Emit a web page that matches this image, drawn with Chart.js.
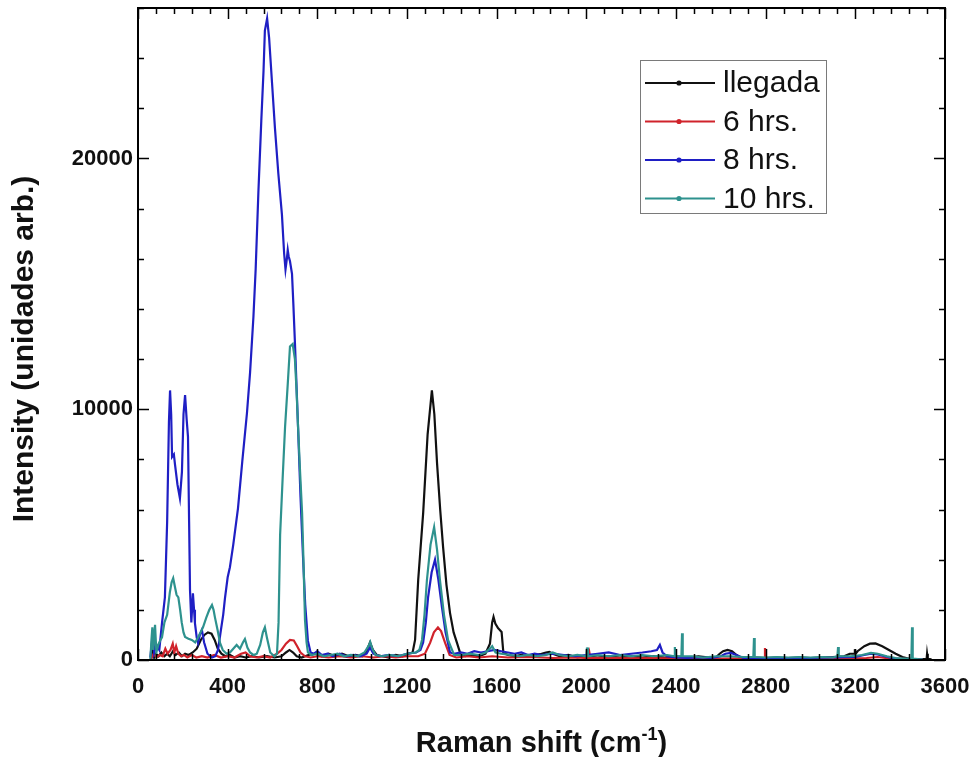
<!DOCTYPE html>
<html>
<head>
<meta charset="utf-8">
<script src="https://cdn.jsdelivr.net/npm/chart.js@4.4.1/dist/chart.umd.min.js"></script>
<style>
  html, body { margin: 0; padding: 0; background: #fff; }
  canvas { display: block; }
</style>
</head>
<body>
<canvas id="raman" width="974" height="757"></canvas>
<script>
// Raman spectra: shift (cm-1) and intensity (arb. units) per sample
const SERIES_NAMES = ["llegada", "6 hrs.", "8 hrs.", "10 hrs."];

const SHIFT_LLEGADA = [58,66,72,80,92,104,118,130,142,156,168,182,196,210,226,244,262,280,296,312,328,342,356,372,390,410,430,455,480,510,540,575,610,640,660,676,692,708,730,760,790,820,850,880,910,940,970,1000,1020,1035,1048,1065,1090,1120,1150,1180,1205,1225,1236,1250,1272,1292,1311,1322,1334,1348,1361,1376,1392,1408,1423,1440,1460,1490,1520,1550,1570,1580,1586,1594,1606,1614,1622,1630,1650,1680,1710,1740,1770,1800,1820,1835,1850,1880,1920,1960,2000,2050,2100,2150,2200,2250,2300,2350,2400,2450,2500,2550,2580,2595,2610,2630,2650,2670,2685,2720,2760,2800,2850,2900,2950,3000,3050,3100,3150,3175,3195,3198,3201,3210,3240,3265,3290,3320,3350,3380,3410,3440,3480,3518,3520,3523,3540];
const INT_LLEGADA = [0,350,100,250,150,300,150,250,150,350,200,300,150,250,200,300,450,800,1000,1100,1050,800,450,250,150,200,100,150,100,150,100,150,100,150,300,400,300,150,100,200,250,150,250,150,250,150,200,150,350,700,400,200,150,100,200,150,250,300,800,3200,5850,9000,10750,9800,7850,6000,4500,3000,1870,1100,680,200,150,200,150,250,650,1500,1720,1450,1270,1200,1120,280,200,150,200,150,200,250,300,320,250,150,200,100,150,100,150,100,150,100,150,100,150,100,150,100,120,250,350,400,350,200,100,80,100,80,100,80,100,80,100,120,150,250,250,430,250,350,550,650,660,550,400,250,120,50,40,50,250,50,30];

const SHIFT_6H = [58,70,82,96,110,122,132,145,155,162,170,180,192,205,220,240,260,285,310,340,370,400,430,460,480,500,530,560,590,620,640,660,678,695,710,725,745,770,800,850,900,950,1000,1050,1100,1150,1200,1250,1280,1303,1320,1338,1352,1370,1390,1420,1470,1520,1580,1650,1750,1850,1950,2010,2014,2018,2100,2200,2300,2400,2500,2600,2700,2795,2797,2800,2900,3000,3100,3250,3300,3350,3450,3500];
const INT_6H = [50,250,100,200,150,450,250,400,650,300,550,250,150,200,100,200,100,150,100,200,100,150,100,250,300,150,100,150,100,250,400,650,800,780,550,300,150,100,150,100,150,100,150,100,150,100,150,150,250,680,1100,1300,1150,680,200,100,150,100,150,100,120,80,100,80,280,80,90,70,80,60,70,60,70,60,480,60,50,60,50,80,120,60,40,30];

const SHIFT_8H = [55,62,67,72,82,95,107,120,130,138,143,148,152,160,165,176,187,196,203,210,217,223,228,232,238,245,250,254,262,268,276,285,295,310,330,345,357,370,380,388,400,410,425,446,465,486,500,515,525,537,550,560,566,576,585,598,611,626,642,652,658,664,668,672,678,687,693,700,714,725,736,746,758,770,785,800,820,845,870,900,930,960,990,1020,1035,1050,1080,1120,1160,1200,1240,1260,1272,1284,1294,1310,1325,1340,1356,1372,1392,1410,1440,1470,1500,1530,1560,1590,1620,1650,1680,1710,1740,1770,1800,1850,1900,1950,2000,2050,2100,2150,2200,2250,2290,2315,2328,2340,2360,2400,2450,2500,2560,2600,2620,2645,2670,2700,2750,2800,2900,3000,3100,3200,3240,3270,3300,3330,3360,3400,3450,3500];
const INT_8H = [100,700,1200,300,600,400,1470,2500,5500,9500,10750,9800,8100,8200,7800,7000,6450,7500,9800,10560,9600,8900,5500,2790,1500,2660,2000,1470,900,680,1000,1200,700,250,100,150,400,1200,1800,2470,3300,3700,4600,6050,7900,9840,11470,13700,15600,18640,21500,23500,25100,25580,24800,23000,21200,19400,17770,16200,15580,16000,16350,16100,15900,15400,14200,12670,9280,6500,4140,2200,760,300,250,350,200,250,150,250,150,200,150,250,500,250,150,200,150,250,300,400,700,1500,2500,3500,4000,3200,2100,1100,300,250,300,250,350,300,350,400,350,300,250,300,200,250,200,250,200,150,200,250,300,200,250,300,350,400,600,300,150,100,80,100,80,150,250,280,200,80,60,80,60,80,100,120,200,250,220,150,80,40,30,20];

const SHIFT_10H = [55,60,64,68,76,82,90,100,107,118,130,142,150,157,165,172,180,188,195,203,210,225,240,255,268,277,290,305,318,330,337,343,355,366,378,395,410,425,440,455,468,477,488,500,515,530,545,557,566,575,590,608,620,627,634,645,656,668,678,690,700,707,714,723,732,738,745,752,758,775,800,830,860,890,920,950,980,1010,1028,1036,1045,1060,1090,1120,1160,1200,1240,1255,1267,1278,1289,1305,1321,1334,1347,1365,1383,1410,1440,1480,1520,1550,1570,1580,1595,1620,1660,1700,1740,1780,1820,1850,1880,1920,1960,2000,2003,2007,2050,2100,2150,2200,2250,2300,2360,2393,2395,2398,2424,2427,2430,2470,2520,2580,2640,2700,2745,2748,2751,2800,2850,2900,2950,3000,3050,3100,3120,3123,3126,3180,3230,3270,3300,3340,3380,3420,3450,3453,3456,3480,3500];
const INT_10H = [0,800,1300,400,1400,300,600,800,900,1500,1800,2700,3100,3260,2900,2600,2500,2000,1500,1100,920,850,800,700,900,1070,1300,1700,2000,2190,2000,1710,1200,680,400,250,300,450,600,450,700,840,500,300,200,250,600,1100,1300,900,300,150,250,1500,5000,7200,9280,11000,12500,12600,12000,10800,9300,7500,5860,4000,1600,700,300,200,250,150,200,250,150,200,150,300,550,720,450,200,150,200,150,250,300,400,800,1800,3200,4600,5300,4400,3190,1800,800,200,200,250,200,300,450,550,300,250,200,150,200,150,200,300,200,150,200,150,500,150,200,150,200,150,200,150,200,150,520,150,150,1070,150,150,100,150,150,120,120,880,120,100,120,100,120,100,120,100,150,520,150,150,200,280,250,150,80,60,60,1310,60,40,30];

const X_TICKS = [0, 400, 800, 1200, 1600, 2000, 2400, 2800, 3200, 3600];
const Y_TICKS = [0, 10000, 20000];

const COLORS = ["#111111", "#d0232b", "#1f1fc4", "#2e928e"];

const FONT = '"Liberation Sans", Arial, sans-serif';

function pairs(xs, ys) {
  return xs.map((x, i) => ({ x: x, y: ys[i] }));
}

const sets = [
  [SHIFT_LLEGADA, INT_LLEGADA],
  [SHIFT_6H, INT_6H],
  [SHIFT_8H, INT_8H],
  [SHIFT_10H, INT_10H]
].map((d, i) => ({
  label: SERIES_NAMES[i],
  data: pairs(d[0], d[1]),
  borderColor: COLORS[i],
  backgroundColor: COLORS[i],
  borderWidth: 2.2,
  pointRadius: 0,
  tension: 0,
  order: 3 - i
}));

// Boxed frame with inward ticks on all four sides, legend and axis titles
const framePlugin = {
  id: 'frame',
  afterDraw(chart) {
    const ctx = chart.ctx;
    const a = chart.chartArea;
    const xs = chart.scales.x, ys = chart.scales.y;
    ctx.save();
    ctx.strokeStyle = '#000';
    ctx.lineWidth = 2;
    ctx.strokeRect(a.left, a.top, a.right - a.left, a.bottom - a.top);

    ctx.lineWidth = 1.5;
    ctx.beginPath();
    for (let v = 0; v <= 3600; v += 80) {
      const px = Math.round(xs.getPixelForValue(v)) + 0.5;
      const len = v % 400 === 0 ? 11 : 6;
      ctx.moveTo(px, a.bottom); ctx.lineTo(px, a.bottom - len);
      ctx.moveTo(px, a.top); ctx.lineTo(px, a.top + len);
    }
    for (let v = 0; v <= 26000; v += 2000) {
      const py = Math.round(ys.getPixelForValue(v)) + 0.5;
      const len = v % 10000 === 0 ? 11 : 6;
      ctx.moveTo(a.left, py); ctx.lineTo(a.left + len, py);
      ctx.moveTo(a.right, py); ctx.lineTo(a.right - len, py);
    }
    ctx.stroke();

    // legend
    const lx = 640, ly = 60, lw = 186, lh = 153;
    ctx.lineWidth = 1;
    ctx.strokeStyle = '#7a7a7a';
    ctx.strokeRect(lx + 0.5, ly + 0.5, lw, lh);
    ctx.font = '30px ' + FONT;
    ctx.textBaseline = 'middle';
    ctx.textAlign = 'left';
    SERIES_NAMES.forEach((name, i) => {
      const y = ly + 23 + i * 38.5;
      ctx.strokeStyle = COLORS[i];
      ctx.lineWidth = 2;
      ctx.beginPath();
      ctx.moveTo(lx + 5, y); ctx.lineTo(lx + 75, y);
      ctx.stroke();
      ctx.fillStyle = COLORS[i];
      ctx.beginPath();
      ctx.arc(lx + 39, y, 2.6, 0, Math.PI * 2);
      ctx.fill();
      ctx.fillStyle = '#111';
      ctx.fillText(name, lx + 83, y + 1);
    });

    // x axis title with superscript
    ctx.fillStyle = '#111';
    ctx.textBaseline = 'alphabetic';
    const big = 'bold 29px ' + FONT, small = 'bold 18px ' + FONT;
    const p1 = 'Raman shift (cm', p2 = '-1', p3 = ')';
    ctx.font = big; const w1 = ctx.measureText(p1).width, w3 = ctx.measureText(p3).width;
    ctx.font = small; const w2 = ctx.measureText(p2).width;
    let tx = (a.left + a.right) / 2 - (w1 + w2 + w3) / 2;
    const tb = 752;
    ctx.font = big; ctx.fillText(p1, tx, tb); tx += w1;
    ctx.font = small; ctx.fillText(p2, tx, tb - 12); tx += w2;
    ctx.font = big; ctx.fillText(p3, tx, tb);

    // y axis title
    ctx.save();
    ctx.translate(33, 349);
    ctx.rotate(-Math.PI / 2);
    ctx.textAlign = 'center';
    ctx.font = 'bold 30px ' + FONT;
    ctx.fillText('Intensity (unidades arb.)', 0, 0);
    ctx.restore();

    ctx.restore();
  }
};

new Chart(document.getElementById('raman'), {
  type: 'line',
  data: { datasets: sets },
  options: {
    responsive: false,
    animation: false,
    layout: { padding: { left: 0, right: 29, top: 8, bottom: 0 } },
    plugins: { legend: { display: false }, tooltip: { enabled: false } },
    scales: {
      x: {
        type: 'linear',
        min: 0, max: 3600,
        grid: { display: false, drawTicks: false },
        border: { display: false },
        afterBuildTicks: s => { s.ticks = X_TICKS.map(v => ({ value: v })); },
        afterFit: s => { s.height = 97; s.paddingLeft = 0; s.paddingRight = 0; },
        ticks: {
          padding: 14,
          maxRotation: 0,
          autoSkip: false,
          color: '#111',
          callback: v => String(v),
          font: { family: FONT, size: 22, weight: 'bold' }
        }
      },
      y: {
        type: 'linear',
        min: 0, max: 26000,
        grid: { display: false, drawTicks: false },
        border: { display: false },
        afterBuildTicks: s => { s.ticks = Y_TICKS.map(v => ({ value: v })); },
        afterFit: s => { s.width = 138; s.paddingTop = 0; s.paddingBottom = 0; },
        ticks: {
          padding: 5,
          color: '#111',
          callback: v => String(v),
          font: { family: FONT, size: 22, weight: 'bold' }
        }
      }
    }
  },
  plugins: [framePlugin]
});
</script>
</body>
</html>
